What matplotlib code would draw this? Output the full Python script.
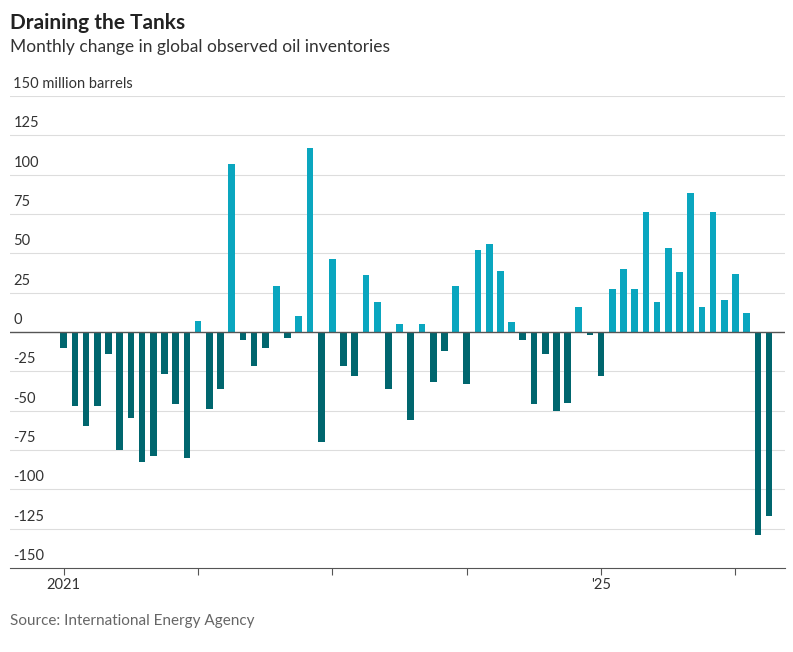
import matplotlib.pyplot as plt
import numpy as np

values = [-10,-47,-60,-47,-14,-75,-55,-83,-79,-27,-46,-80,
          7,-49,-36,107,-5,-22,-10,29,-4,10,117,-70,
          46,-22,-28,36,19,-36,5,-56,5,-32,-12,29,
          -33,52,56,39,6,-5,-46,-14,-50,-45,16,-2,
          -28,27,40,27,76,19,53,38,88,16,76,20,
          37,12,-129,-117]
yticks = [150,125,100,75,50,25,0,-25,-50,-75,-100,-125,-150]
ytick_labels = ["150 million barrels","125","100","75","50","25","0","-25","-50","-75","-100","-125","-150"]
year_ticks = [0,12,24,36,48,60]
year_labels = ["2021","","","","'25",""]

plt.rcParams['font.family'] = ['Lato','DejaVu Sans']
fig = plt.figure(figsize=(7.93,6.52), dpi=100)
ax = fig.add_axes([0.0126, 0.129, 0.977, 0.724])
x = np.arange(len(values))
cols = ['#0aa6bf' if v >= 0 else '#00666e' for v in values]
ax.bar(x, values, width=0.6, color=cols, zorder=3)
ax.set_xlim(-4.8, 64.4)
ax.set_ylim(-150, 150)
for t in yticks:
    if t == 0:
        ax.axhline(0, color='#555555', lw=1, zorder=4)
    elif t != -150:
        ax.axhline(t, color='#dddddd', lw=0.8, zorder=1)
    ax.text(-4.5, t+3, ytick_labels[ytick_labels.index(ytick_labels[yticks.index(t)])], fontsize=10.5,
            color='#333333', ha='left', va='bottom')
ax.set_yticks([])
for s in ['top','right','left']:
    ax.spines[s].set_visible(False)
ax.spines['bottom'].set_color('#555555')
ax.set_xticks(year_ticks)
ax.set_xticklabels(year_labels, fontsize=10.5, color='#333333')
ax.tick_params(axis='x', length=5, color='#555555', pad=2)
fig.text(0.013, 0.965, "Draining the Tanks", fontsize=15, fontweight='bold', color='#222222', va='center')
fig.text(0.013, 0.928, "Monthly change in global observed oil inventories", fontsize=12.5, color='#333333', va='center')
fig.text(0.013, 0.047, "Source: International Energy Agency", fontsize=11, color='#666666', va='center')
fig.savefig('out.png', dpi=100)
